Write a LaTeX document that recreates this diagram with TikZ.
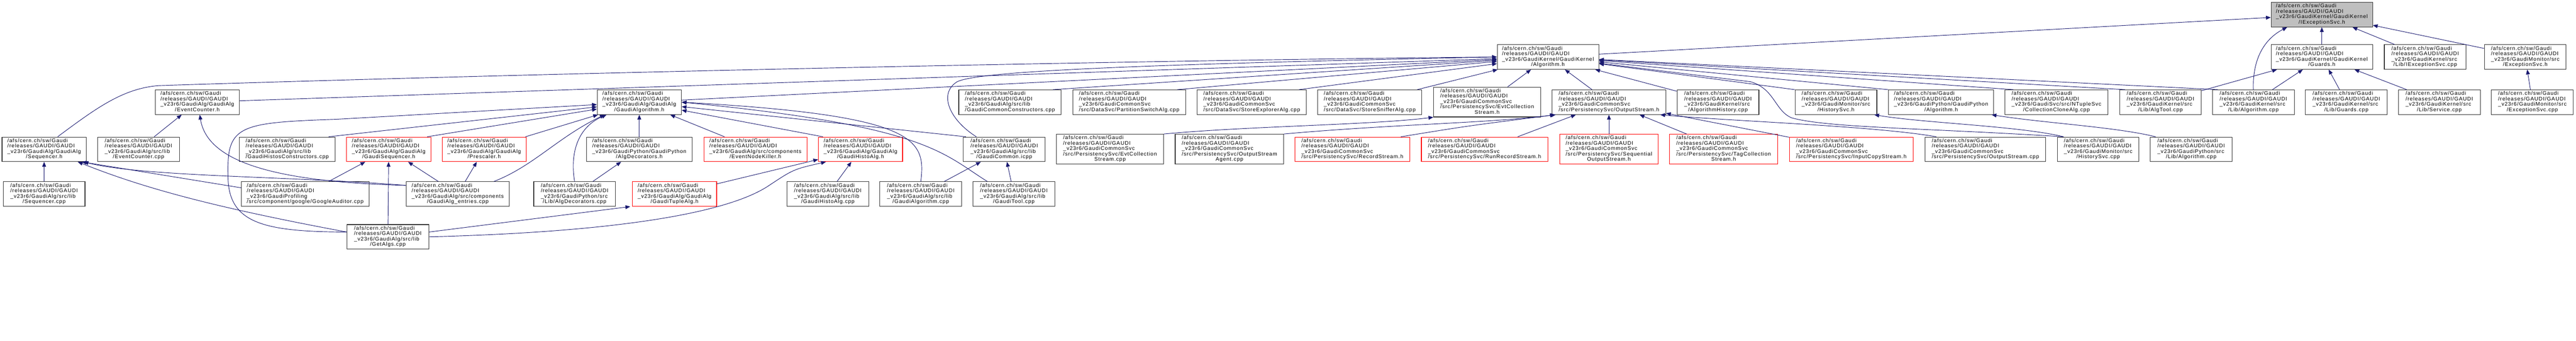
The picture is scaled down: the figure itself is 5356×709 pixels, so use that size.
\documentclass[tikz,border=0pt]{standalone}
\usepackage{fontspec}
\newfontfamily\dotfont[LetterSpace=9]{Liberation Sans}
\usetikzlibrary{arrows.meta}
\definecolor{edgeblue}{HTML}{191970}
\definecolor{rootgray}{HTML}{BFBFBF}
\newcommand{\fpath}[2]{\begin{tabular}{@{}l@{}}/afs/cern.ch/sw/Gaudi\\/releases/GAUDI/GAUDI\\\_#1\\\multicolumn{1}{@{}c@{}}{#2}\end{tabular}}
\tikzset{
  file/.style={draw=black!80, line width=0.6pt, inner sep=0pt, minimum width=85pt, minimum height=25.5pt,
    font=\dotfont\fontsize{5.5}{5.45}\selectfont},
  cut/.style={file, draw=red},
  root/.style={file, fill=rootgray},
  tall/.style={minimum height=31pt},
  dep/.style={draw=edgeblue, line width=0.5pt, -{Triangle[length=5pt,width=4pt]}}
}

\begin{document}
\begin{tikzpicture}[x=0.5pt,y=-0.5pt]
  \useasboundingbox (0,0) rectangle (5356,709);

  % top
  \node[root, minimum width=105.5pt] (exsvch) at (4827.5,30.5) {\fpath{v23r6/GaudiKernel/GaudiKernel}{/IExceptionSvc.h}};

  \node[file, minimum width=105.5pt] (kalgh) at (3218.5,118.5) {\fpath{v23r6/GaudiKernel/GaudiKernel}{/Algorithm.h}};
  \node[file, minimum width=105.5pt] (guardsh) at (4827.5,118.5) {\fpath{v23r6/GaudiKernel/GaudiKernel}{/Guards.h}};
  \node[file] (iexcpp) at (5042.5,118.5) {\fpath{v23r6/GaudiKernel/src}{/Lib/IExceptionSvc.cpp}};
  \node[file] (excsvch) at (5250.5,118.5) {\fpath{v23r6/GaudiMonitor/src}{/ExceptionSvc.h}};

  % second row
  \node[file, minimum width=87.5pt] (evcounth) at (410.3,212.5) {\fpath{v23r6/GaudiAlg/GaudiAlg}{/EventCounter.h}};
  \node[file, minimum width=87.5pt] (galgh) at (1329.2,212.5) {\fpath{v23r6/GaudiAlg/GaudiAlg}{/GaudiAlgorithm.h}};
  \node[file, minimum width=106.5pt] (gcomcons) at (2100,212.5) {\fpath{v23r6/GaudiAlg/src/lib}{/GaudiCommonConstructors.cpp}};
  \node[file, minimum width=117.5pt] (partsw) at (2347.8,212.5) {\fpath{v23r6/GaudiCommonSvc}{/src/DataSvc/PartitionSwitchAlg.cpp}};
  \node[file, minimum width=113.5pt] (storeexp) at (2602.7,212.5) {\fpath{v23r6/GaudiCommonSvc}{/src/DataSvc/StoreExplorerAlg.cpp}};
  \node[file, minimum width=108pt] (storesniff) at (2848,212.5) {\fpath{v23r6/GaudiCommonSvc}{/src/DataSvc/StoreSnifferAlg.cpp}};
  \node[file, tall, minimum width=111.3pt] (evtcolh) at (3092,212.2) {\fpath{v23r6/GaudiCommonSvc\\/src/PersistencySvc/EvtCollection}{Stream.h}};
  \node[file, minimum width=118pt] (ostreamh) at (3345.3,212.5) {\fpath{v23r6/GaudiCommonSvc}{/src/PersistencySvc/OutputStream.h}};
  \node[file] (alghist) at (3572,212.5) {\fpath{v23r6/GaudiKernel/src}{/AlgorithmHistory.cpp}};
  \node[file] (histsvch) at (3817.3,212.5) {\fpath{v23r6/GaudiMonitor/src}{/HistorySvc.h}};
  \node[file, minimum width=109.3pt] (pyalgh) at (4036,212.5) {\fpath{v23r6/GaudiPython/GaudiPython}{/Algorithm.h}};
  \node[file, minimum width=106.8pt] (collclone) at (4275.8,212.5) {\fpath{v23r6/GaudiSvc/src/NTupleSvc}{/CollectionCloneAlg.cpp}};
  \node[file] (algtool) at (4492,212.5) {\fpath{v23r6/GaudiKernel/src}{/Lib/AlgTool.cpp}};
  \node[file] (kalgcpp) at (4685.2,212.5) {\fpath{v23r6/GaudiKernel/src}{/Lib/Algorithm.cpp}};
  \node[file] (guardscpp) at (4878.5,212.5) {\fpath{v23r6/GaudiKernel/src}{/Lib/Guards.cpp}};
  \node[file] (servicecpp) at (5071.8,212.5) {\fpath{v23r6/GaudiKernel/src}{/Lib/Service.cpp}};
  \node[file] (excsvccpp) at (5265.2,212.5) {\fpath{v23r6/GaudiMonitor/src}{/ExceptionSvc.cpp}};

  % third row
  \node[file, minimum width=87.5pt] (seqh) at (91.8,310.5) {\fpath{v23r6/GaudiAlg/GaudiAlg}{/Sequencer.h}};
  \node[file] (evcountcpp) at (288,310.5) {\fpath{v23r6/GaudiAlg/src/lib}{/EventCounter.cpp}};
  \node[file, minimum width=99.5pt] (histcons) at (597.2,310.5) {\fpath{v23r6/GaudiAlg/src/lib}{/GaudiHistosConstructors.cpp}};
  \node[cut, minimum width=87.5pt] (gseqh) at (808.2,310.5) {\fpath{v23r6/GaudiAlg/GaudiAlg}{/GaudiSequencer.h}};
  \node[cut, minimum width=87.4pt] (prescaler) at (1006.7,310.5) {\fpath{v23r6/GaudiAlg/GaudiAlg}{/Prescaler.h}};
  \node[file, minimum width=109.5pt] (algdech) at (1329.2,310.5) {\fpath{v23r6/GaudiPython/GaudiPython}{/AlgDecorators.h}};
  \node[cut, minimum width=107.3pt] (nodekiller) at (1570.7,310.5) {\fpath{v23r6/GaudiAlg/src/components}{/EventNodeKiller.h}};
  \node[cut, minimum width=87.5pt] (ghistoh) at (1789.2,310.5) {\fpath{v23r6/GaudiAlg/GaudiAlg}{/GaudiHistoAlg.h}};
  \node[file] (gcommon) at (2088,310.5) {\fpath{v23r6/GaudiAlg/src/lib}{/GaudiCommon.icpp}};
  \node[file, tall, minimum width=111.3pt] (evtcolcpp) at (2308,310.2) {\fpath{v23r6/GaudiCommonSvc\\/src/PersistencySvc/EvtCollection}{Stream.cpp}};
  \node[file, tall, minimum width=112.8pt] (agentcpp) at (2556.2,310.2) {\fpath{v23r6/GaudiCommonSvc\\/src/PersistencySvc/OutputStream}{Agent.cpp}};
  \node[cut, minimum width=119.5pt] (recordh) at (2811.8,310.5) {\fpath{v23r6/GaudiCommonSvc}{/src/PersistencySvc/RecordStream.h}};
  \node[cut, minimum width=131.3pt] (runrech) at (3086.7,310.5) {\fpath{v23r6/GaudiCommonSvc}{/src/PersistencySvc/RunRecordStream.h}};
  \node[cut, tall, minimum width=102.7pt] (seqouth) at (3345.3,310.2) {\fpath{v23r6/GaudiCommonSvc\\/src/PersistencySvc/Sequential}{OutputStream.h}};
  \node[cut, tall, minimum width=112.2pt] (tagcolh) at (3583.8,310.2) {\fpath{v23r6/GaudiCommonSvc\\/src/PersistencySvc/TagCollection}{Stream.h}};
  \node[cut, minimum width=128.8pt] (inputcopy) at (3849.2,310.5) {\fpath{v23r6/GaudiCommonSvc}{/src/PersistencySvc/InputCopyStream.h}};
  \node[file, minimum width=125.3pt] (ostreamcpp) at (4128,310.5) {\fpath{v23r6/GaudiCommonSvc}{/src/PersistencySvc/OutputStream.cpp}};
  \node[file] (histsvccpp) at (4362.5,310.5) {\fpath{v23r6/GaudiMonitor/src}{/HistorySvc.cpp}};
  \node[file] (pyalgcpp) at (4555.8,310.5) {\fpath{v23r6/GaudiPython/src}{/Lib/Algorithm.cpp}};

  % fourth row
  \node[file] (seqcpp) at (91.7,403.5) {\fpath{v23r6/GaudiAlg/src/lib}{/Sequencer.cpp}};
  \node[file, minimum width=132.8pt] (google) at (634.5,403.5) {\fpath{v23r6/GaudiProfiling}{/src/component/google/GoogleAuditor.cpp}};
  \node[file, minimum width=107.5pt] (entries) at (951.8,403.5) {\fpath{v23r6/GaudiAlg/src/components}{/GaudiAlg\_entries.cpp}};
  \node[file] (algdeccpp) at (1194.7,403.5) {\fpath{v23r6/GaudiPython/src}{/Lib/AlgDecorators.cpp}};
  \node[cut, minimum width=87.5pt] (tupleh) at (1402.5,403.5) {\fpath{v23r6/GaudiAlg/GaudiAlg}{/GaudiTupleAlg.h}};
  \node[file] (ghistocpp) at (1721.3,403.5) {\fpath{v23r6/GaudiAlg/src/lib}{/GaudiHistoAlg.cpp}};
  \node[file] (galgcpp) at (1914.5,403.5) {\fpath{v23r6/GaudiAlg/src/lib}{/GaudiAlgorithm.cpp}};
  \node[file] (gtoolcpp) at (2108,403.5) {\fpath{v23r6/GaudiAlg/src/lib}{/GaudiTool.cpp}};

  \node[file] (getalgs) at (806.5,492.5) {\fpath{v23r6/GaudiAlg/src/lib}{/GetAlgs.cpp}};

  % IExceptionSvc.h, Guards.h, ExceptionSvc.h
  \draw[dep] (kalgh) -- (exsvch);
  \draw[dep] (guardsh) -- (exsvch);
  \draw[dep] (kalgcpp.north) .. controls (4683,120) and (4710,80) .. ([xshift=17pt]exsvch.south west);
  \draw[dep] (iexcpp) -- (exsvch);
  \draw[dep] (excsvch) -- (exsvch);
  \draw[dep] (algtool) -- (guardsh);
  \draw[dep] (kalgcpp) -- (guardsh);
  \draw[dep] (guardscpp) -- (guardsh);
  \draw[dep] (servicecpp) -- (guardsh);
  \draw[dep] (excsvccpp) -- (excsvch);

  % GaudiKernel/Algorithm.h
  \draw[dep] ([xshift=14pt]seqh.north) .. controls (200,225) and (255,184) .. (330,178) .. controls (1200,150) and (2400,125) .. (kalgh.west);
  \draw[dep] (evcounth) -- (kalgh);
  \draw[dep] (galgh) -- (kalgh);
  \draw[dep] ([xshift=-9pt]gcomcons.north east) -- (kalgh);
  \draw[dep] ([xshift=-29pt]gcommon.north) .. controls (1975,250) and (1950,195) .. (1990,170) .. controls (2030,150) and (2300,135) .. (kalgh.west);
  \draw[dep] ([xshift=-9pt]partsw.north east) -- (kalgh);
  \draw[dep] ([xshift=-8pt]storeexp.north east) -- (kalgh);
  \draw[dep] ([xshift=-5pt]storesniff.north east) -- (kalgh);
  \draw[dep] (evtcolh) -- (kalgh);
  \draw[dep] (ostreamh) -- (kalgh);
  \draw[dep] (alghist) -- (kalgh);
  \draw[dep] (histsvch.north west) -- (kalgh);
  \draw[dep] (pyalgh.north west) -- (kalgh);
  \draw[dep] ([xshift=9pt]collclone.north west) -- (kalgh);
  \draw[dep] ([xshift=6pt]algtool.north west) -- (kalgh);
  \draw[dep] ([xshift=6pt]kalgcpp.north west) -- (kalgh);
  \draw[dep] ([xshift=-36pt]histsvccpp.north) .. controls (4000,266) and (3800,266) .. (3725,245) .. controls (3690,230) and (3690,185) .. (3640,170) -- (kalgh);

  % GaudiAlgorithm.h
  \draw[dep] ([yshift=5pt]getalgs.west) .. controls (540,482) and (472,462) .. (474,360) .. controls (472,260) and (500,255) .. (700,248) -- (galgh);
  \draw[dep] ([xshift=-7pt]histcons.north east) -- (galgh);
  \draw[dep] ([xshift=-4pt]gseqh.north east) -- (galgh);
  \draw[dep] (prescaler) -- (galgh);
  \draw[dep] ([xshift=37.5pt]entries.north) .. controls (1110,345) and (1160,285) .. ([xshift=-36pt]galgh.south);
  \draw[dep] (algdeccpp.north) .. controls (1185,320) and (1200,265) .. ([xshift=-34pt]galgh.south);
  \draw[dep] (algdech) -- (galgh);
  \draw[dep] (nodekiller) -- (galgh);
  \draw[dep] ([xshift=5pt]ghistoh.north west) -- (galgh);
  \draw[dep] ([xshift=3pt]gcommon.north west) -- (galgh);
  \draw[dep] (galgcpp.north) .. controls (1925,290) and (1910,240) .. (galgh.east);
  \draw[dep] ([xshift=-27.5pt]gtoolcpp.north) .. controls (1960,320) and (1930,262) .. (galgh.east);

  % GaudiSequencer.h, Prescaler.h, AlgDecorators.h, EventCounter.h
  \draw[dep] (google) -- (gseqh);
  \draw[dep] (getalgs) -- (gseqh);
  \draw[dep] (entries) -- (gseqh);
  \draw[dep] (entries) -- (prescaler);
  \draw[dep] (algdeccpp) -- (algdech);
  \draw[dep] (evcountcpp) -- (evcounth);
  \draw[dep] ([yshift=9pt]entries.west) .. controls (550,378) and (430,330) .. ([xshift=2.5pt]evcounth.south);

  % Sequencer.h
  \draw[dep] (seqcpp) -- (seqh);
  \draw[dep] ([yshift=9pt]entries.west) .. controls (600,366) and (300,368) .. ([xshift=-3pt]seqh.south east);
  \draw[dep] ([yshift=6.5pt]google.west) -- ([xshift=-5pt]seqh.south east);
  \draw[dep] ([yshift=5pt]getalgs.west) .. controls (450,432) and (300,392) .. ([xshift=-9pt]seqh.south east);

  % GaudiTupleAlg.h, GaudiHistoAlg.h, GaudiCommon.icpp
  \draw[dep] ([yshift=5pt]getalgs.east) -- ([xshift=-2pt]tupleh.south west);
  \draw[dep] (getalgs.east) .. controls (1300,482) and (1520,440) .. (1600,385) .. controls (1650,352) .. ([xshift=-36pt]ghistoh.south);
  \draw[dep] (tupleh) -- (ghistoh);
  \draw[dep] (ghistocpp) -- (ghistoh);
  \draw[dep] (galgcpp) -- (gcommon);
  \draw[dep] (gtoolcpp) -- (gcommon);

  % PersistencySvc
  \draw[dep] (evtcolcpp.north east) .. controls (2600,262) and (2850,260) .. (evtcolh.south west);
  \draw[dep] (agentcpp.north east) .. controls (2900,258) and (3100,256) .. ([xshift=3pt]ostreamh.south west);
  \draw[dep] ([xshift=50.5pt]recordh.north) .. controls (3050,262) .. ([xshift=4pt]ostreamh.south west);
  \draw[dep] (runrech) -- (ostreamh);
  \draw[dep] (seqouth) -- (ostreamh);
  \draw[dep] (tagcolh) -- (ostreamh);
  \draw[dep] (inputcopy) -- (ostreamh);
  \draw[dep] ([xshift=-51pt]ostreamcpp.north) .. controls (3900,262) and (3600,252) .. ([xshift=-6pt]ostreamh.south east);

  % HistorySvc.h, GaudiPython/Algorithm.h
  \draw[dep] ([xshift=-36pt]histsvccpp.north) .. controls (4200,262) and (4000,256) .. ([xshift=-3pt]histsvch.south east);
  \draw[dep] ([xshift=-37pt]pyalgcpp.north) .. controls (4400,264) and (4250,256) .. ([xshift=-2.5pt]pyalgh.south east);
\end{tikzpicture}
\end{document}
